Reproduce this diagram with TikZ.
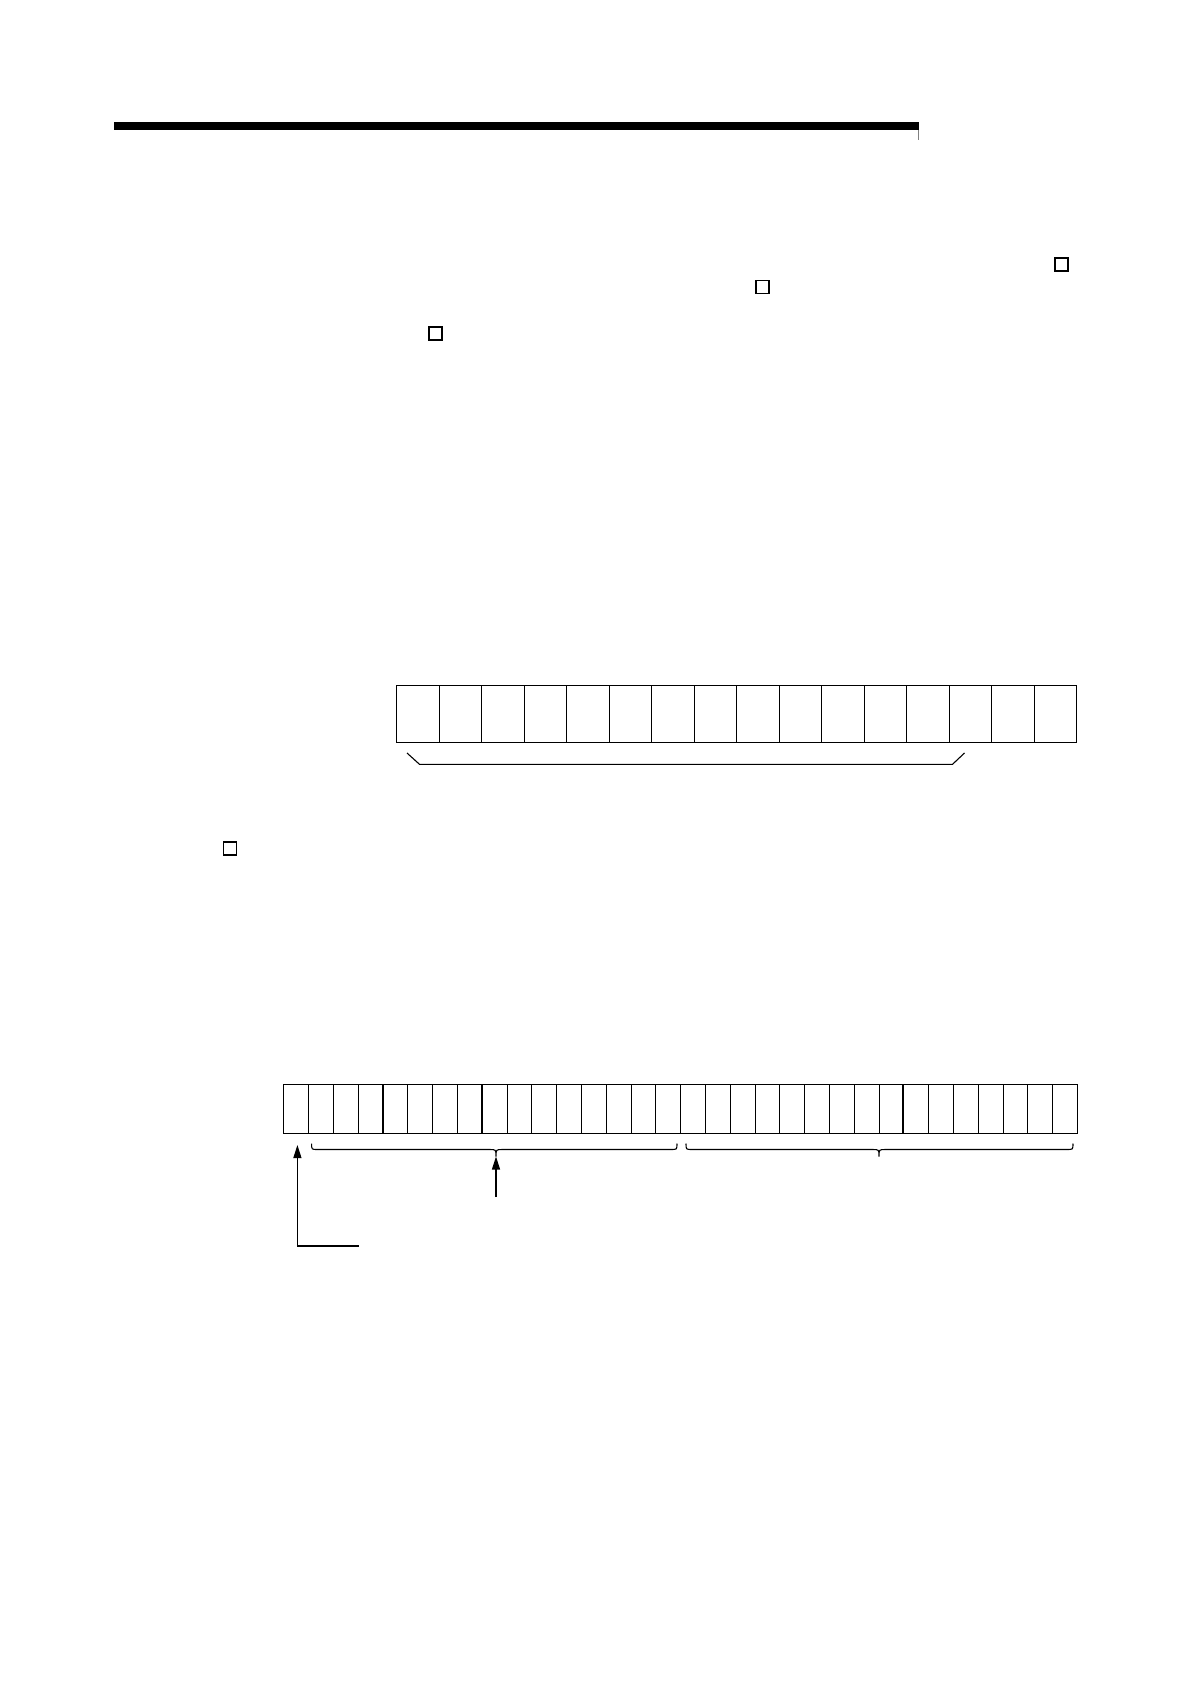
\documentclass[tikz,border=0pt]{standalone}
\usetikzlibrary{arrows.meta}
\begin{document}
\begin{tikzpicture}[x=1pt,y=-1pt,
  cellA/.style={draw,line width=1.1pt,inner sep=0pt,minimum width=42.5pt,minimum height=56.7pt,anchor=north west},
  cellB/.style={draw,line width=1.1pt,inner sep=0pt,minimum width=24.8pt,minimum height=48.7pt,anchor=north west},
  mark box/.style={draw,line width=1.6pt,inner sep=0pt,minimum width=13pt,minimum height=13pt},
  bracel/.style={line width=1.1pt},
  arr/.style={line width=1.1pt,-{Triangle[length=13pt,width=8pt]}}]
\useasboundingbox (0,0) rectangle (1190,1684);
% top rule
\fill[black] (114,122) rectangle (918.5,130);
\draw[gray,line width=1pt] (918,130) -- (918,140);
% small squares
\node[mark box] (s1) at (1061.5,264.5) {};
\node[mark box] (s2) at (762.5,287) {};
\node[mark box] (s3) at (435.5,333.5) {};
\node[mark box] (s4) at (230,848.5) {};
% top register: 16 cells
\foreach \i in {0,...,15}
  \node[cellA] (a\i) at ({396+42.5*\i},685) {};
% top brace
\draw[bracel] (407,753) -- (419.5,764.3) -- (952.5,764.3) -- (964.5,753);
% bottom register: 32 cells
\foreach \i in {0,...,31}
  \node[cellB] (b\i) at ({283.3+24.8*\i},1084.3) {};
\foreach \i in {4,8,25}
  \draw[line width=1.8pt] ({283.3+24.8*\i},1084.3) -- ({283.3+24.8*\i},1133);
% bottom braces
\draw[bracel] (311.6,1143.5) .. controls (311.6,1149.5) .. (317.5,1149.5) -- (489.5,1149.5)
  .. controls (496,1149.5) .. (496,1156.5) .. controls (496,1149.5) .. (502.5,1149.5)
  -- (671,1149.5) .. controls (677,1149.5) .. (677,1143.5);
\draw[bracel] (686,1143.5) .. controls (686,1149.5) .. (692,1149.5) -- (872.5,1149.5)
  .. controls (879,1149.5) .. (879,1156.5) .. controls (879,1149.5) .. (885.5,1149.5)
  -- (1067,1149.5) .. controls (1073,1149.5) .. (1073,1143.5);
% arrows
\coordinate (c1) at (297.4,1245.7);
\coordinate (c1end) at (359,1245.7);
\coordinate (t1) at (297.4,1145);
\draw[arr] (c1) -- (t1);
\draw[line width=2.2pt] ([xshift=-0.5pt]c1) -- (c1end);
\coordinate (c2) at (496,1197);
\coordinate (t2) at (496,1156.5);
\draw[arr] (c2) -- (t2);
\end{tikzpicture}
\end{document}
